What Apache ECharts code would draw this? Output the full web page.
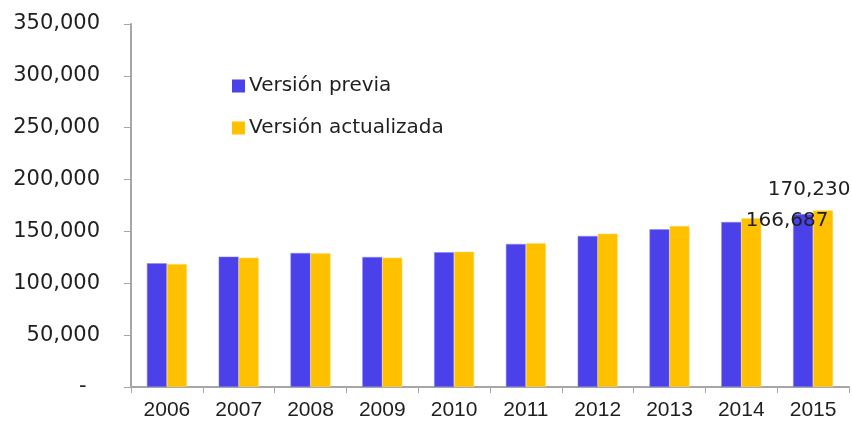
<!DOCTYPE html>
<html lang="es">
<head>
    <meta charset="UTF-8">
    <title>Versión previa vs actualizada</title>
    <script src="https://cdn.jsdelivr.net/npm/echarts@6/dist/echarts.min.js"></script>
</head>
<body style="margin:0;width:852px;height:427px;background:#fff">
    <div id="container" style="width:852px;height:427px"></div>
</body>
<script>
    var years = ['2006', '2007', '2008', '2009', '2010', '2011', '2012', '2013', '2014', '2015'];
    var previa = [119300, 125700, 129200, 125400, 129900, 137900, 145600, 152100, 159100, 166687];
    var actualizada = [118600, 124700, 128900, 124700, 130500, 138600, 147800, 155300, 162700, 170230];

    var txt = '#1f1f1f';
    var axisGrey = '#a6a6a6';

    function fmt(v) {
        if (v === 0) return '-  ';
        return String(v).replace(/\B(?=(\d{3})+(?!\d))/g, ',');
    }

    // only the last bar of each series gets a label
    function withLastLabel(arr, offset) {
        return arr.map(function (v, i) {
            if (i !== arr.length - 1) return v;
            return {
                value: v,
                label: {
                    show: true, position: 'top', offset: offset,
                    formatter: function (p) { return fmt(p.value); },
                    color: txt, fontSize: 20, fontFamily: 'DejaVu Sans'
                }
            };
        });
    }

    var dom = document.getElementById('container');
    var myChart = echarts.init(dom);

    var option = {
        animation: false,
        grid: { left: 131, right: 3, top: 24, bottom: 40 },
        legend: {
            orient: 'vertical',
            left: 227, top: 71,
            itemWidth: 13, itemHeight: 13, itemGap: 22,
            icon: 'rect',
            itemStyle: { borderWidth: 0 },
            textStyle: { color: txt, fontSize: 20, fontFamily: 'DejaVu Sans', padding: [0, 0, 0, -1] },
            data: ['Versión previa', 'Versión actualizada']
        },
        xAxis: {
            type: 'category',
            data: years,
            axisLine: { lineStyle: { color: axisGrey, width: 2 } },
            axisTick: { show: true, length: 6, lineStyle: { color: axisGrey } },
            axisLabel: { color: txt, fontSize: 21, fontFamily: 'Liberation Sans', margin: 13 }
        },
        yAxis: {
            type: 'value',
            min: 0, max: 350000, interval: 50000,
            axisLine: { show: true, lineStyle: { color: axisGrey, width: 2 } },
            axisTick: { show: true, length: 7, lineStyle: { color: axisGrey } },
            splitLine: { show: false },
            axisLabel: { color: txt, fontSize: 21, fontFamily: 'DejaVu Sans', margin: 31, formatter: fmt }
        },
        series: [
            {
                name: 'Versión previa', type: 'bar',
                barWidth: 20, barGap: '0%',
                itemStyle: { color: '#4b41eb', borderColor: '#8f89f0', borderWidth: 0.5 },
                data: withLastLabel(previa, [-16, 22])
            },
            {
                name: 'Versión actualizada', type: 'bar',
                barWidth: 20, barGap: '0%',
                itemStyle: { color: '#ffc000', borderColor: '#ffdc70', borderWidth: 0.5 },
                data: withLastLabel(actualizada, [-14, -6])
            }
        ]
    };
    myChart.setOption(option, true);
</script>
</html>
